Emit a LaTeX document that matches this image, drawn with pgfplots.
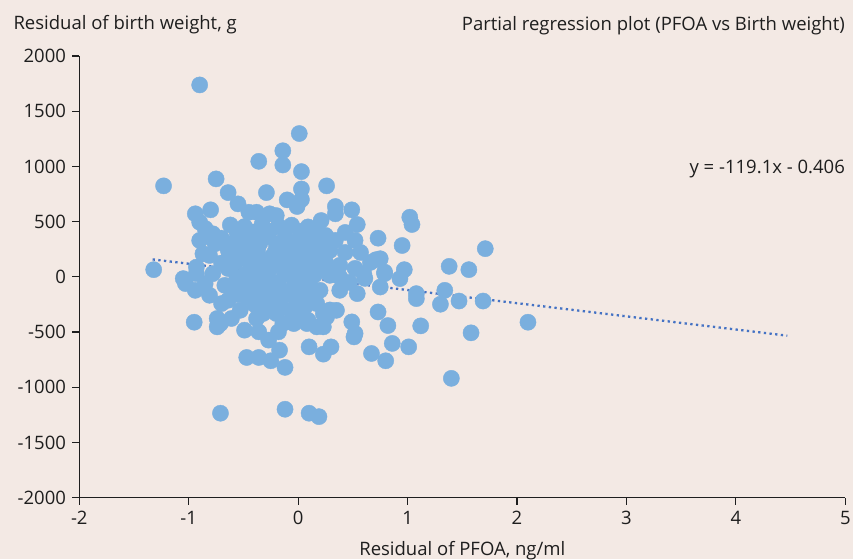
\documentclass[border=0pt]{standalone}
\usepackage{fontspec}
\setmainfont{Open Sans}
\usepackage{pgfplots}
\pgfplotsset{compat=1.18}
\definecolor{bg}{RGB}{243,233,228}
\definecolor{mk}{RGB}{122,175,222}
\definecolor{tl}{RGB}{68,114,196}
\definecolor{txt}{RGB}{30,30,30}
\begin{document}
\fontsize{18.5}{22}\selectfont
\begin{tikzpicture}
\path[use as bounding box, fill=bg] (0,0) rectangle (853pt,559pt);
\begin{axis}[
 at={(79.3pt,61.3pt)}, anchor=south west,
 scale only axis, width=766pt, height=441.7pt,
 xmin=-2, xmax=5, ymin=-2000, ymax=2000,
 axis x line*=bottom, axis y line*=left,
 axis line style={txt, line width=1.2pt},
 xtick={-2,-1,0,1,2,3,4,5}, ytick={-2000,-1500,-1000,-500,0,500,1000,1500,2000},
 tick align=outside, major tick length=7pt,
 tick style={txt, line width=1.2pt},
 ticklabel style={font=\fontsize{18.5}{22}\selectfont, text=txt},
 /pgf/number format/assume math mode=true,
 /pgf/number format/1000 sep={},
 clip=false,
]
\addplot[mk, only marks, mark=*, mark size=8.1pt, mark options={fill=mk, draw=mk, line width=0.4pt}] table {
x y
-0.90 1738
0.01 1298
-0.14 1142
-0.36 1046
-0.14 1013
0.03 953
-0.75 887
-1.23 824
-0.64 763
-0.29 763
0.26 824
0.03 796
-0.10 697
0.03 700
-0.94 571
-0.80 607
-0.90 495
-0.55 661
-0.45 585
-0.38 585
-0.26 571
-0.20 555
-0.01 637
0.34 637
0.34 571
0.49 607
0.54 474
0.21 510
0.73 350
0.95 284
0.71 155
0.79 43
1.02 540
1.04 474
1.71 255
1.38 95
1.56 65
0.97 65
0.93 -16
0.79 29
1.34 -122
1.08 -152
1.08 -197
1.30 -248
1.47 -219
1.69 -219
2.10 -411
1.12 -444
1.58 -507
1.01 -634
1.40 -919
0.75 164
-1.32 65
-1.03 -61
-0.85 -61
-0.70 -242
-0.95 -411
-0.74 -377
-0.71 -423
-0.61 -377
-0.74 -453
-0.47 -730
-0.36 -730
-0.25 -760
-0.12 -820
-0.17 -664
-0.36 -498
-0.27 -573
-0.18 -498
-0.38 -377
-0.32 -332
-0.20 -332
-0.14 -423
0.10 -634
0.23 -700
0.30 -634
0.54 -152
0.49 -408
0.52 -513
0.51 -544
0.73 -318
0.82 -441
0.86 -603
0.67 -694
0.80 -760
0.75 -92
-0.71 -1235
-0.12 -1199
0.10 -1235
0.19 -1266
0.35 -303
0.26 -363
0.23 -453
0.09 -393
0.00 -393
-0.78 390
-0.76 300
-0.81 194
-0.87 209
-0.93 88
-1.05 -16
-0.64 -212
-0.04 -423
0.08 -423
0.17 -453
0.06 -273
0.17 -242
0.23 -332
-0.47 -182
-0.38 -152
-0.26 -182
-0.01 -212
-0.93 29
-0.78 29
-0.56 -2
-0.38 -32
-0.23 -61
-0.07 -122
0.29 -300
0.38 -2
0.60 29
0.25 375
0.34 330
0.43 402
0.52 330
0.29 239
0.43 221
0.57 221
0.66 131
0.25 131
0.38 104
0.52 77
0.61 -14
0.29 14
0.47 -50
0.20 -122
0.38 -122
-0.62 470
-0.49 455
-0.33 475
-0.18 460
-0.06 468
0.09 452
-0.70 350
-0.55 362
-0.42 345
-0.28 365
-0.12 352
0.02 360
0.15 345
-0.64 245
-0.50 232
-0.37 250
-0.21 228
-0.07 244
0.06 230
0.18 248
-0.70 125
-0.57 138
-0.44 120
-0.30 140
-0.17 126
-0.02 135
0.11 120
-0.49 20
-0.33 8
-0.12 22
0.02 5
0.15 18
-0.60 -98
-0.46 -110
-0.30 -95
-0.17 -112
0.06 -100
-0.85 438
-0.90 330
-0.67 -77
-0.81 -167
-0.94 -122
-0.07 -303
-0.17 -257
-0.53 -303
-0.49 -483
-0.56 410
-0.41 405
-0.26 415
-0.12 408
0.03 412
0.16 405
-0.62 300
-0.49 295
-0.35 305
-0.20 298
-0.05 302
0.09 296
0.22 300
-0.63 185
-0.50 180
-0.37 190
-0.24 182
-0.10 188
0.04 180
0.17 186
-0.64 75
-0.41 70
-0.25 78
-0.06 72
0.08 76
0.21 70
-0.52 -45
-0.40 -40
-0.18 -48
-0.03 -42
0.10 -46
-0.55 -160
-0.23 -155
-0.10 -162
0.12 -158
-0.40 -250
-0.30 -245
0.00 -252
};
\addplot[tl, line width=2.3pt, dash pattern=on 2.3pt off 3.4pt] coordinates {(-1.33,158.0) (4.47,-532.8)};
\end{axis}
\node[anchor=base west, text=txt, inner sep=0pt] at (13.3pt,529.7pt) {Residual of birth weight, g};
\node[anchor=base east, text=txt, inner sep=0pt] at (845pt,528.3pt) {Partial regression plot (PFOA vs Birth weight)};
\node[anchor=base east, text=txt, inner sep=0pt] at (845pt,385.7pt) {y = -119.1x - 0.406};
\node[anchor=base, text=txt, inner sep=0pt] at (462.3pt,4pt) {Residual of PFOA, ng/ml};
\end{tikzpicture}
\end{document}
